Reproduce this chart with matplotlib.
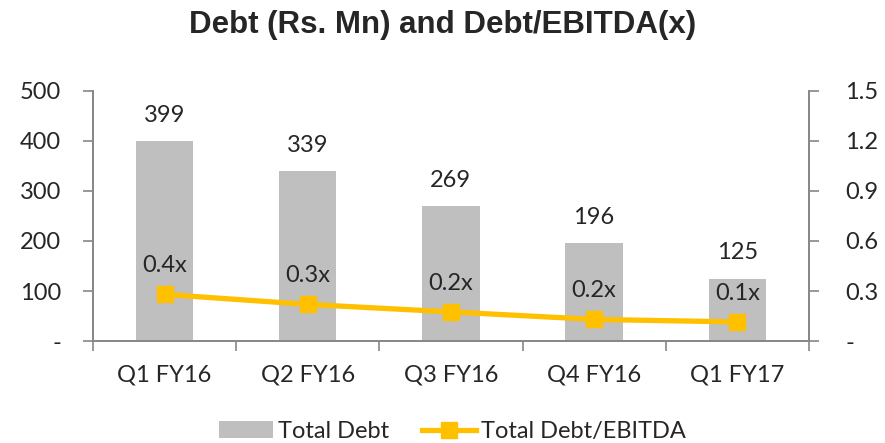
import matplotlib
import matplotlib.pyplot as plt
import numpy as np

plt.switch_backend("agg")
plt.rcParams["font.family"] = ["Lato", "DejaVu Sans"]

QUARTERS = ["Q1 FY16", "Q2 FY16", "Q3 FY16", "Q4 FY16", "Q1 FY17"]
TOTAL_DEBT = [399, 339, 269, 196, 125]
DEBT_EBITDA = [0.28, 0.22, 0.175, 0.13, 0.115]
RATIO_LABELS = ["0.4x", "0.3x", "0.2x", "0.2x", "0.1x"]

LEFT_TICKS = [0, 100, 200, 300, 400, 500]
RIGHT_TICKS = [0, 0.3, 0.6, 0.9, 1.2, 1.5]

BAR_COLOR = "#bfbfbf"
LINE_COLOR = "#ffc000"
AXIS_COLOR = "#868686"
TEXT_COLOR = "#262626"
FS = 17


def main():
    fig = plt.figure(figsize=(8.85, 4.43), dpi=100)
    ax = fig.add_axes([0.105, 0.230, 0.809, 0.565])
    ax2 = ax.twinx()

    x = np.arange(len(QUARTERS))
    bars = ax.bar(x, TOTAL_DEBT, width=0.4, color=BAR_COLOR, label="Total Debt", zorder=2)
    line, = ax2.plot(x, DEBT_EBITDA, color=LINE_COLOR, linewidth=3.8, marker="s",
                     markersize=11, label="Total Debt/EBITDA", zorder=3)

    ax.set_xlim(-0.5, len(QUARTERS) - 0.5)
    ax.set_ylim(0, 500)
    ax2.set_ylim(0, 1.5)

    ax.set_yticks(LEFT_TICKS)
    ax.set_yticklabels(["-" if v == 0 else str(v) for v in LEFT_TICKS])
    ax2.set_yticks(RIGHT_TICKS)
    ax2.set_yticklabels(["-" if v == 0 else f"{v:.1f}" for v in RIGHT_TICKS])

    ax.set_xticks(x)
    ax.set_xticklabels(QUARTERS)
    ax.set_xticks(np.arange(-0.5, len(QUARTERS), 1.0), minor=True)
    ax.tick_params(axis="x", which="major", length=0, pad=17, labelsize=FS, labelcolor=TEXT_COLOR)
    ax.tick_params(axis="x", which="minor", length=7, direction="out", color=AXIS_COLOR, width=1.2)
    ax.tick_params(axis="y", length=7, direction="out", color=AXIS_COLOR, width=1.2,
                   labelsize=FS, labelcolor=TEXT_COLOR, pad=16)
    ax2.tick_params(axis="y", length=7, direction="out", color=AXIS_COLOR, width=1.2,
                    labelsize=FS, labelcolor=TEXT_COLOR, pad=19)

    for a in (ax, ax2):
        a.spines["top"].set_visible(False)
        for side in ("left", "right", "bottom"):
            a.spines[side].set_color(AXIS_COLOR)
            a.spines[side].set_linewidth(1.2)

    for xi, v in zip(x, TOTAL_DEBT):
        ax.annotate(str(v), (xi, v), xytext=(0, 11), textcoords="offset points",
                    ha="center", va="bottom", fontsize=FS, color=TEXT_COLOR)
    for xi, v, lab in zip(x, DEBT_EBITDA, RATIO_LABELS):
        ax2.annotate(lab, (xi, v), xytext=(0, 13), textcoords="offset points",
                     ha="center", va="bottom", fontsize=FS, color=TEXT_COLOR)

    fig.text(0.5, 0.943, "Debt (Rs. Mn) and Debt/EBITDA(x)", ha="center", va="center",
             fontsize=22.5, fontweight="bold", family=["Liberation Sans", "DejaVu Sans"],
             color=TEXT_COLOR)

    fig.legend([bars, line], ["Total Debt", "Total Debt/EBITDA"], loc="center",
               bbox_to_anchor=(0.511, 0.026), ncol=2, frameon=False, fontsize=FS,
               handlelength=2.3, columnspacing=1.4, handletextpad=0.2,
               labelcolor=TEXT_COLOR)

    fig.savefig("out.png", dpi=100)
    plt.close(fig)


if __name__ == "__main__":
    main()
